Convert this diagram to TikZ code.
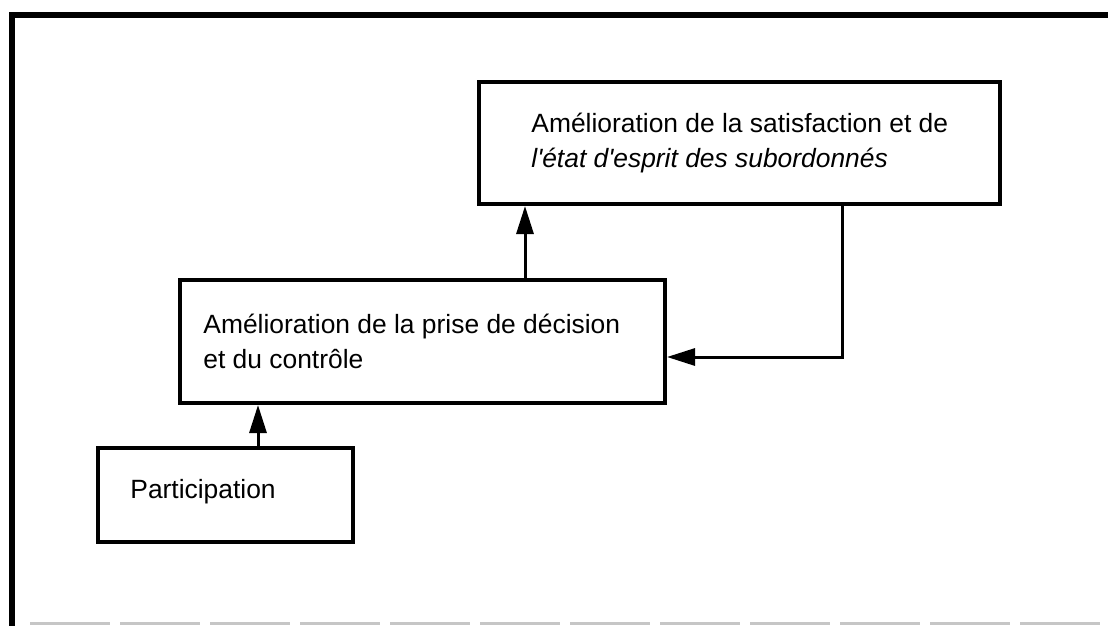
\documentclass[tikz,border=0pt]{standalone}
\usepackage{fontspec}
\setmainfont{Liberation Sans}
\usetikzlibrary{arrows.meta}
\newcommand\boxfont{\fontsize{13.2pt}{17.5pt}\selectfont}
\begin{document}
\begin{tikzpicture}[x=0.5pt, y=-0.5pt,
  boxnode/.style={draw, line width=2pt, rectangle, inner sep=0pt},
  txt/.style={font=\boxfont, align=left, anchor=west, inner sep=0pt},
  arr/.style={line width=1.5pt, -{Triangle[length=14pt,width=8.5pt]}},
  frameline/.style={line width=3pt}]
\useasboundingbox (0,0) rectangle (1108,626);
\fill[white] (0,0) rectangle (1108,626);

% page frame: heavy top and left rules, faint broken rule at the foot
\draw[frameline] (1108,15) -- (12,15) -- (12,626);
\draw[gray!45, line width=1.5pt, dash pattern=on 40pt off 5pt] (30,623) -- (1108,623);

% boxes
\node[boxnode, minimum width=260.5pt, minimum height=61pt] (sat) at (739.5,143) {};
\node[boxnode, minimum width=242.5pt, minimum height=61.5pt] (dec) at (422.5,341.5) {};
\node[boxnode, minimum width=127.5pt, minimum height=47pt] (part) at (225.5,495) {};

% box texts
\node[txt] (satT) at ([xshift=27pt]sat.west) {Amélioration de la satisfaction et de\\\itshape l\textquotesingle état d\textquotesingle esprit des subordonnés};
\node[txt] (decT) at ([xshift=12.5pt]dec.west) {Amélioration de la prise de décision\\et du contrôle};
\node[txt] (partT) at ([xshift=17pt,yshift=1.5pt]part.west) {Participation};

% connectors
\draw[arr] ([xshift=16.25pt]part.north) -- ([xshift=16.25pt]part.north |- dec.south);
\draw[arr] ([xshift=51.25pt]dec.north) -- ([xshift=51.25pt]dec.north |- sat.south);
\draw[arr] ([xshift=51.25pt]sat.south) |- ([yshift=-7.75pt]dec.east);
\end{tikzpicture}
\end{document}
